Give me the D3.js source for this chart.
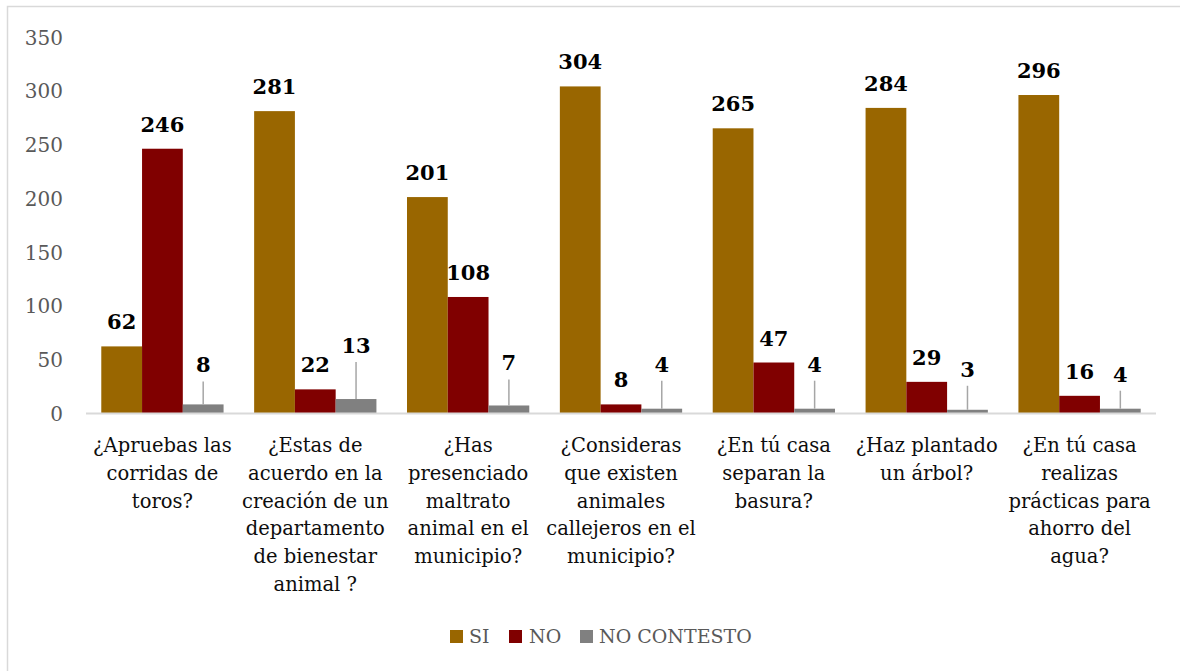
<!DOCTYPE html>
<html>
<head>
<meta charset="utf-8">
<script src="https://cdn.jsdelivr.net/npm/d3@7"></script>
<style>
  html, body { margin: 0; padding: 0; background: #fff; }
  svg { display: block; }
</style>
</head>
<body>
<svg id="chart" width="1180" height="671"></svg>
<script>
// ---------- DATA ----------
const categories = [
  ["¿Apruebas las", "corridas de", "toros?"],
  ["¿Estas de", "acuerdo en la", "creación de un", "departamento", "de bienestar", "animal ?"],
  ["¿Has", "presenciado", "maltrato", "animal en el", "municipio?"],
  ["¿Consideras", "que existen", "animales", "callejeros en el", "municipio?"],
  ["¿En tú casa", "separan la", "basura?"],
  ["¿Haz plantado", "un árbol?"],
  ["¿En tú casa", "realizas", "prácticas para", "ahorro del", "agua?"]
];
const seriesNames = ["SI", "NO", "NO CONTESTO"];
const siValues = [62, 281, 201, 304, 265, 284, 296];
const noValues = [246, 22, 108, 8, 47, 29, 16];
const ncValues = [8, 13, 7, 4, 4, 3, 4];
const yTicks = [0, 50, 100, 150, 200, 250, 300, 350];

// ---------- LAYOUT / STYLE ----------
const colors = ["#996600", "#800000", "#808080"];
const ncLabelLift = [32, 46, 35, 37, 37, 33, 27];
const fontFamily = "'DejaVu Serif', 'Liberation Serif', serif";

const svg = d3.select("#chart");
const W = 1180, H = 671;

svg.append("rect").attr("x", 7.5).attr("y", 6.5).attr("width", W).attr("height", H)
  .attr("fill", "#fff").attr("stroke", "#d9d9d9").attr("stroke-width", 1.5);

const catIdx = categories.map((d, i) => i);
const x = d3.scaleBand().domain(catIdx).range([86, 1156]).paddingInner(0.2).paddingOuter(0.1);
const xs = d3.scaleBand().domain(seriesNames).range([0, x.bandwidth()]).padding(0);
const y = d3.scaleLinear().domain([0, 350]).range([413, 37]);

const seriesValues = [siValues, noValues, ncValues];

// y axis labels
const yAxis = d3.axisLeft(y).tickValues(yTicks).tickSize(0).tickPadding(0);
const gy = svg.append("g").attr("transform", "translate(63,0)").call(yAxis);
gy.select(".domain").remove();
gy.selectAll("text").attr("font-family", fontFamily).attr("font-size", 20)
  .attr("fill", "#595959").attr("dy", "0.36em");

// bars
seriesNames.forEach((s, si) => {
  svg.append("g").selectAll("rect").data(seriesValues[si]).join("rect")
    .attr("x", (d, i) => x(i) + xs(s))
    .attr("y", d => y(d))
    .attr("width", xs.bandwidth())
    .attr("height", d => y(0) - y(d))
    .attr("fill", colors[si]);
});

// baseline
svg.append("line").attr("x1", 86).attr("x2", 1156).attr("y1", y(0) + 0.5).attr("y2", y(0) + 0.5)
  .attr("stroke", "#d9d9d9").attr("stroke-width", 2);

// data labels SI / NO
[0, 1].forEach(si => {
  svg.append("g").selectAll("text").data(seriesValues[si]).join("text")
    .attr("x", (d, i) => x(i) + xs(seriesNames[si]) + xs.bandwidth() / 2)
    .attr("y", d => y(d) - 17)
    .attr("text-anchor", "middle")
    .attr("font-family", fontFamily).attr("font-weight", "bold").attr("font-size", 21)
    .attr("fill", "#000")
    .text(d => d);
});

// NC labels with leader lines
const ncG = svg.append("g");
ncValues.forEach((d, i) => {
  const cx = x(i) + xs("NO CONTESTO") + xs.bandwidth() / 2;
  const by = y(d) - ncLabelLift[i];
  ncG.append("line").attr("x1", cx).attr("x2", cx).attr("y1", by + 9).attr("y2", y(d))
    .attr("stroke", "#a6a6a6").attr("stroke-width", 1.5);
  ncG.append("text").attr("x", cx).attr("y", by).attr("text-anchor", "middle")
    .attr("font-family", fontFamily).attr("font-weight", "bold").attr("font-size", 21)
    .attr("fill", "#000").text(d);
});

// category labels
const xAxisG = svg.append("g");
categories.forEach((lines, i) => {
  const t = xAxisG.append("text")
    .attr("x", x(i) + x.bandwidth() / 2)
    .attr("y", 452)
    .attr("text-anchor", "middle")
    .attr("font-family", fontFamily).attr("font-size", 19.5).attr("fill", "#0d0d0d");
  lines.forEach((ln, j) => {
    t.append("tspan").attr("x", x(i) + x.bandwidth() / 2).attr("dy", j === 0 ? 0 : 27.8).text(ln);
  });
});

// legend
const legendItems = [
  { name: "SI", sx: 450, tx: 469 },
  { name: "NO", sx: 509, tx: 529 },
  { name: "NO CONTESTO", sx: 580, tx: 599 }
];
const lg = svg.append("g");
legendItems.forEach((it, i) => {
  lg.append("rect").attr("x", it.sx).attr("y", 630).attr("width", 13).attr("height", 13).attr("fill", colors[i]);
  lg.append("text").attr("x", it.tx).attr("y", 643)
    .attr("font-family", fontFamily).attr("font-size", 19).attr("fill", "#595959").text(it.name);
});
</script>
</body>
</html>
